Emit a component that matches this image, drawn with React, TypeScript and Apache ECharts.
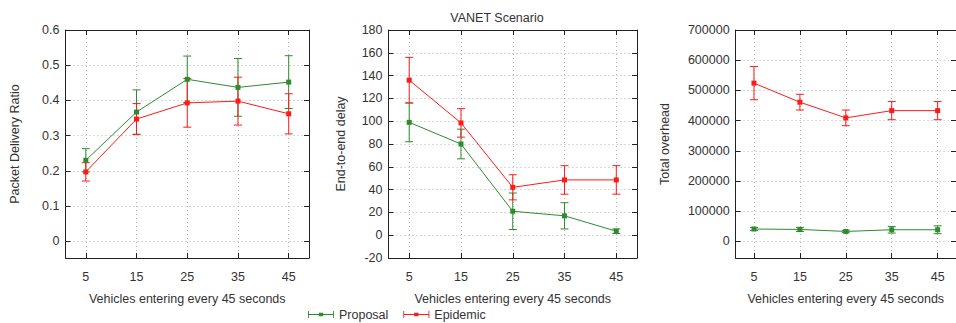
import React, { useEffect, useRef } from "react";
import * as echarts from "echarts";

// ---- data ----
const xValues = [5, 15, 25, 35, 45];
const xTicks = [5, 15, 25, 35, 45];

const pdrTicks = [0, 0.1, 0.2, 0.3, 0.4, 0.5, 0.6];
const pdrProposal = [0.23, 0.367, 0.46, 0.437, 0.452];
const pdrProposalErr = [0.033, 0.063, 0.066, 0.082, 0.075];
const pdrEpidemic = [0.197, 0.347, 0.393, 0.398, 0.362];
const pdrEpidemicErr = [0.026, 0.044, 0.069, 0.068, 0.057];

const delayTicks = [-20, 0, 20, 40, 60, 80, 100, 120, 140, 160, 180];
const delayProposal = [99, 80, 21, 17, 3.5];
const delayProposalErr = [17, 13, 16, 11.5, 2];
const delayEpidemic = [136, 98.5, 42, 48.5, 48.5];
const delayEpidemicErr = [20, 12.5, 11, 12.5, 12.5];

const overheadTicks = [0, 100000, 200000, 300000, 400000, 500000, 600000, 700000];
const overheadProposal = [41000, 39500, 33000, 38500, 38500];
const overheadProposalErr = [5000, 7000, 4000, 11000, 13000];
const overheadEpidemic = [524000, 461000, 409000, 433000, 433000];
const overheadEpidemicErr = [55000, 26000, 26000, 30000, 30000];

const seriesNames = ["Proposal", "Epidemic"];
const titleText = "VANET Scenario";
const xName = "Vehicles entering every 45 seconds";
const yNames = ["Packet Delivery Ratio", "End-to-end delay", "Total overhead"];

// ---- styles / layout ----
const GREEN = "#2e8b2e";
const RED = "#ff1a1a";
const TEXT = "#333";
const FONT = "Liberation Sans, Arial, sans-serif";
const FS = 12.5;

const layout = [
  { left: 65.5, width: 243.5, yMin: -0.0475, yMax: 0.6, nameGap: 44 },
  { left: 388.5, width: 248.5, yMin: -20, yMax: 180, nameGap: 41 },
  { left: 735.6, width: 224, yMin: -55000, yMax: 700000, nameGap: 64 },
];

const panelData = [
  { ticks: pdrTicks, p: pdrProposal, pe: pdrProposalErr, e: pdrEpidemic, ee: pdrEpidemicErr },
  { ticks: delayTicks, p: delayProposal, pe: delayProposalErr, e: delayEpidemic, ee: delayEpidemicErr },
  { ticks: overheadTicks, p: overheadProposal, pe: overheadProposalErr, e: overheadEpidemic, ee: overheadEpidemicErr },
];

function errData(vals: number[], errs: number[]) {
  return xValues.map((x, i) => [x, vals[i] - errs[i], vals[i] + errs[i]]);
}

function renderErr(params: any, api: any) {
  const x = api.value(0);
  const lo = api.coord([x, api.value(1)]);
  const hi = api.coord([x, api.value(2)]);
  const cap = 4;
  const style = { stroke: api.visual("color"), lineWidth: 1, fill: null };
  return {
    type: "group",
    children: [
      { type: "line", shape: { x1: lo[0], y1: lo[1], x2: hi[0], y2: hi[1] }, style },
      { type: "line", shape: { x1: lo[0] - cap, y1: lo[1], x2: lo[0] + cap, y2: lo[1] }, style },
      { type: "line", shape: { x1: hi[0] - cap, y1: hi[1], x2: hi[0] + cap, y2: hi[1] }, style },
    ],
  };
}

const legendIcon =
  "path://M0,4.5h30v1h-30z M0,1h1v8h-1z M29,1h1v8h-1z M12.5,3h5v4h-5z";

function buildOption() {
  const grid: any[] = [];
  const xAxis: any[] = [];
  const yAxis: any[] = [];
  const series: any[] = [];
  const lineStyle = { color: "#222", width: 1 };
  const tick = { show: true, inside: true, length: 5, lineStyle: { color: "#222", width: 1 } };
  const split = { show: true, lineStyle: { color: "#b5b5b5", width: 1, type: [1, 3] } };

  layout.forEach((L, i) => {
    const D = panelData[i];
    grid.push({ left: L.left, top: 30, width: L.width, height: 228, containLabel: false });
    xAxis.push({
      type: "value", gridIndex: i, min: 1, max: 49, position: "bottom",
      axisLine: { show: true, onZero: false, lineStyle },
      axisTick: { ...tick, customValues: xTicks },
      axisLabel: { customValues: xTicks, margin: 12, color: TEXT, fontSize: FS, fontFamily: FONT, formatter: (v: number) => String(v) },
      splitLine: split,
      name: xName, nameLocation: "middle", nameGap: 34,
      nameTextStyle: { color: TEXT, fontSize: FS, fontFamily: FONT },
    });
    xAxis.push({
      type: "value", gridIndex: i, min: 1, max: 49, position: "top",
      axisLine: { show: true, onZero: false, lineStyle },
      axisTick: { ...tick, customValues: xTicks },
      axisLabel: { show: false, customValues: xTicks },
      splitLine: { show: false },
    });
    yAxis.push({
      type: "value", gridIndex: i, min: L.yMin, max: L.yMax, position: "left",
      axisLine: { show: true, onZero: false, lineStyle },
      axisTick: { ...tick, customValues: D.ticks },
      axisLabel: { customValues: D.ticks, margin: 6, color: TEXT, fontSize: FS, fontFamily: FONT, formatter: (v: number) => String(v) },
      splitLine: split,
      name: yNames[i], nameLocation: "middle", nameGap: L.nameGap, nameRotate: 90,
      nameTextStyle: { color: TEXT, fontSize: FS, fontFamily: FONT },
    });
    yAxis.push({
      type: "value", gridIndex: i, min: L.yMin, max: L.yMax, position: "right",
      axisLine: { show: true, onZero: false, lineStyle },
      axisTick: { ...tick, customValues: D.ticks },
      axisLabel: { show: false, customValues: D.ticks },
      splitLine: { show: false },
    });

    const groups = [
      { name: seriesNames[0], color: GREEN, v: D.p, err: D.pe },
      { name: seriesNames[1], color: RED, v: D.e, err: D.ee },
    ];
    groups.forEach((g) => {
      series.push({
        type: "custom", name: g.name, xAxisIndex: 2 * i, yAxisIndex: 2 * i,
        renderItem: renderErr, itemStyle: { color: g.color },
        encode: { x: 0, y: [1, 2] },
        data: errData(g.v, g.err), silent: true, z: 3,
      });
      series.push({
        type: "line", name: g.name, xAxisIndex: 2 * i, yAxisIndex: 2 * i,
        data: xValues.map((x, k) => [x, g.v[k]]),
        symbol: "rect", symbolSize: 5, showSymbol: true,
        itemStyle: { color: g.color }, lineStyle: { color: g.color, width: 1 },
        z: 4,
      });
    });
  });

  return {
    animation: false,
    backgroundColor: "#fff",
    title: {
      text: titleText, left: 492, top: 6, textAlign: "center",
      textStyle: { color: TEXT, fontSize: FS, fontWeight: "normal", fontFamily: FONT },
    },
    legend: {
      data: seriesNames.map((n) => ({ name: n, icon: legendIcon })),
      left: 303, top: 303, itemWidth: 26, itemHeight: 8, itemGap: 15,
      textStyle: { color: TEXT, fontSize: FS, fontFamily: FONT },
      selectedMode: false,
    },
    grid, xAxis, yAxis, series,
  };
}

export default function App() {
  const ref = useRef<HTMLDivElement>(null);
  useEffect(() => {
    if (!ref.current) return;
    const chart = echarts.init(ref.current, null, { renderer: "svg" });
    chart.setOption(buildOption() as any);
    return () => chart.dispose();
  }, []);
  return (
    <div
      ref={ref}
      style={{ position: "absolute", left: 0, top: 0, width: 956, height: 323, background: "#fff" }}
    />
  );
}
